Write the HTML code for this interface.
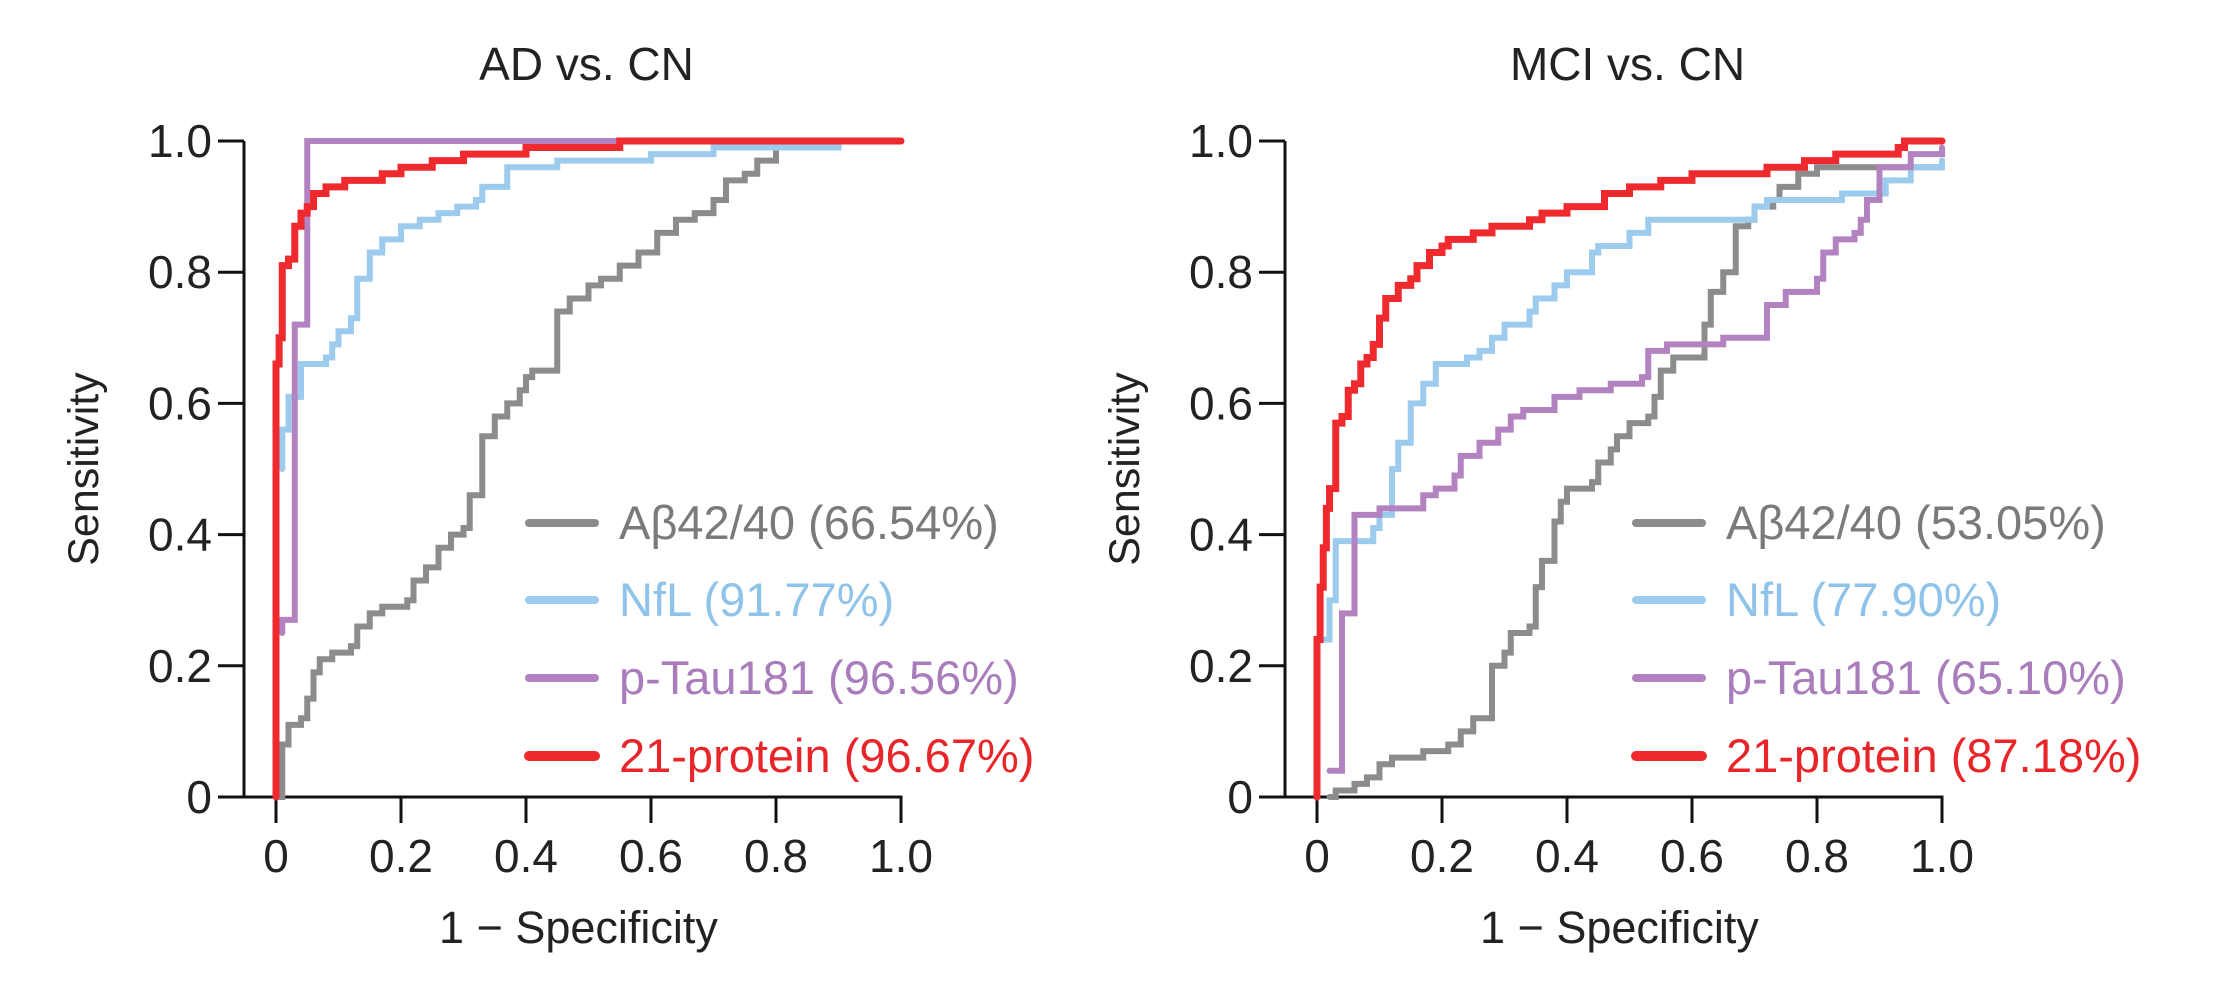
<!DOCTYPE html>
<html><head><meta charset="utf-8"><style>
html,body{margin:0;padding:0;background:#fff}
svg{display:block}
text{font-family:"Liberation Sans",Arial,sans-serif}
</style></head><body>
<svg id="s" width="2215" height="997" viewBox="0 0 2215 997" xmlns="http://www.w3.org/2000/svg"></svg>
<script>
const S=document.getElementById('s');
const NS='http://www.w3.org/2000/svg';
function el(t,a,txt){const e=document.createElementNS(NS,t);for(const k in a)e.setAttribute(k,a[k]);if(txt!==undefined)e.textContent=txt;S.appendChild(e);return e;}
const Y0=797,Y1=141,H=Y0-Y1;
const cols={g:'#8c8c8c',b:'#9ccbed',p:'#b283c0',r:'#ee2a2e'};
const tcols={g:'#7a7a7a',b:'#8fc3ea',p:'#a97cbc',r:'#e8262a'};
function panel(x0,title,data,legX,legs){
 const W=625, sp=x0-32;
 const X=v=>x0+v*W, Yf=v=>Y0-v*H;
 el('text',{x:x0+W/2-2,y:80,'font-size':46,'text-anchor':'middle',fill:'#222'},title);
 el('line',{x1:sp,y1:Y1,x2:sp,y2:Y0,stroke:'#111','stroke-width':3});
 el('line',{x1:sp-26,y1:Y0,x2:x0+W+1.5,y2:Y0,stroke:'#111','stroke-width':3});
 for(let i=0;i<=5;i++){
  const v=i/5,y=Yf(v),x=X(v);
  el('line',{x1:sp-26,y1:y,x2:sp,y2:y,stroke:'#111','stroke-width':3});
  el('line',{x1:x,y1:Y0,x2:x,y2:Y0+26,stroke:'#111','stroke-width':3});
  const lab=i==0?'0':(v.toFixed(1));
  el('text',{x:sp-32,y:y+16,'font-size':46,'text-anchor':'end',fill:'#222'},lab);
  el('text',{x:x,y:872,'font-size':46,'text-anchor':'middle',fill:'#222'},lab);
 }
 el('text',{x:x0+W/2-10,y:943,'font-size':45,'text-anchor':'middle',fill:'#222'},'1 \u2212 Specificity');
 el('text',{x:0,y:0,'font-size':43,'text-anchor':'middle',fill:'#222',transform:`translate(${sp-146},${(Y0+Y1)/2}) rotate(-90)`},'Sensitivity');
 for(const k of ['g','b','p','r']){
  const pts=data[k];let d='M'+X(pts[0][0])+' '+Yf(pts[0][1]);
  for(let i=1;i<pts.length;i++){d+=' H'+X(pts[i][0])+' V'+Yf(pts[i][1]);}
  el('path',{d:d,fill:'none',stroke:cols[k],'stroke-width':k=='r'?7:6,'stroke-linejoin':'miter','stroke-linecap':'round'});
 }
 const ys=[523,600,678,756];
 ['g','b','p','r'].forEach((k,i)=>{
  el('line',{x1:legX,y1:ys[i],x2:legX+66,y2:ys[i],stroke:cols[k],'stroke-width':k=='r'?10:8,'stroke-linecap':'round'});
  el('text',{x:legX+90,y:ys[i]+16,'font-size':47,fill:tcols[k]},legs[i]);
 });
}
const AD={
g:[[0,0],[0.01,0.08],[0.02,0.11],[0.04,0.12],[0.05,0.15],[0.06,0.19],[0.07,0.21],[0.09,0.22],[0.12,0.23],[0.13,0.26],[0.15,0.28],[0.17,0.29],[0.21,0.30],[0.22,0.33],[0.24,0.35],[0.26,0.38],[0.28,0.40],[0.3,0.41],[0.31,0.46],[0.33,0.48],[0.33,0.55],[0.35,0.58],[0.37,0.60],[0.39,0.62],[0.4,0.64],[0.41,0.65],[0.45,0.65],[0.45,0.74],[0.47,0.76],[0.5,0.78],[0.52,0.79],[0.55,0.81],[0.58,0.83],[0.6,0.83],[0.61,0.86],[0.64,0.88],[0.67,0.89],[0.7,0.91],[0.72,0.91],[0.72,0.94],[0.75,0.95],[0.77,0.97],[0.8,0.99],[0.9,1.0],[1,1]],
b:[[0.01,0.5],[0.01,0.56],[0.02,0.61],[0.04,0.66],[0.08,0.67],[0.09,0.69],[0.1,0.71],[0.12,0.73],[0.13,0.79],[0.15,0.83],[0.17,0.85],[0.2,0.87],[0.23,0.88],[0.26,0.89],[0.29,0.90],[0.32,0.91],[0.33,0.93],[0.37,0.96],[0.45,0.97],[0.6,0.98],[0.7,0.99],[0.9,1],[1,1]],
p:[[0.01,0.25],[0.01,0.27],[0.03,0.28],[0.03,0.72],[0.05,0.74],[0.05,1.0],[1,1]],
r:[[0,0],[0,0.66],[0.005,0.7],[0.01,0.76],[0.01,0.81],[0.02,0.82],[0.03,0.87],[0.04,0.89],[0.05,0.9],[0.06,0.92],[0.08,0.93],[0.11,0.94],[0.17,0.95],[0.2,0.96],[0.25,0.97],[0.3,0.98],[0.4,0.99],[0.55,1.0],[1,1]]
};
const MCI={
r:[[0,0],[0,0.24],[0.005,0.32],[0.01,0.38],[0.015,0.44],[0.02,0.47],[0.03,0.51],[0.03,0.57],[0.04,0.58],[0.05,0.62],[0.06,0.63],[0.07,0.66],[0.08,0.67],[0.09,0.69],[0.1,0.73],[0.11,0.76],[0.13,0.78],[0.15,0.79],[0.16,0.81],[0.18,0.83],[0.2,0.84],[0.21,0.85],[0.25,0.86],[0.28,0.87],[0.34,0.88],[0.36,0.89],[0.4,0.90],[0.46,0.92],[0.5,0.93],[0.55,0.94],[0.6,0.95],[0.72,0.96],[0.78,0.97],[0.83,0.98],[0.93,0.99],[0.94,1.0],[1,1]],
b:[[0.01,0.24],[0.02,0.3],[0.03,0.3],[0.03,0.39],[0.09,0.39],[0.09,0.41],[0.1,0.43],[0.12,0.45],[0.12,0.5],[0.13,0.54],[0.15,0.54],[0.15,0.6],[0.17,0.63],[0.19,0.66],[0.24,0.67],[0.26,0.68],[0.28,0.7],[0.3,0.72],[0.34,0.74],[0.35,0.76],[0.38,0.78],[0.4,0.80],[0.44,0.83],[0.45,0.84],[0.5,0.86],[0.53,0.88],[0.67,0.88],[0.7,0.9],[0.72,0.91],[0.84,0.92],[0.91,0.94],[0.95,0.96],[1,0.97]],
p:[[0.02,0.04],[0.04,0.04],[0.04,0.28],[0.06,0.29],[0.06,0.43],[0.1,0.44],[0.17,0.46],[0.19,0.47],[0.22,0.49],[0.23,0.52],[0.26,0.54],[0.29,0.56],[0.31,0.58],[0.33,0.59],[0.38,0.61],[0.42,0.62],[0.47,0.63],[0.52,0.64],[0.53,0.68],[0.56,0.69],[0.62,0.69],[0.65,0.70],[0.72,0.71],[0.72,0.75],[0.75,0.77],[0.8,0.79],[0.81,0.83],[0.83,0.85],[0.86,0.86],[0.87,0.88],[0.88,0.91],[0.9,0.93],[0.9,0.96],[0.95,0.98],[1,0.99]],
g:[[0.02,0],[0.03,0.01],[0.06,0.02],[0.08,0.03],[0.1,0.05],[0.12,0.06],[0.17,0.07],[0.21,0.08],[0.23,0.1],[0.25,0.12],[0.28,0.14],[0.28,0.2],[0.3,0.22],[0.31,0.25],[0.34,0.26],[0.35,0.32],[0.36,0.36],[0.38,0.38],[0.38,0.42],[0.39,0.45],[0.4,0.47],[0.44,0.48],[0.45,0.51],[0.47,0.53],[0.48,0.55],[0.5,0.57],[0.53,0.58],[0.54,0.61],[0.55,0.65],[0.57,0.67],[0.61,0.67],[0.62,0.72],[0.63,0.77],[0.65,0.8],[0.67,0.8],[0.67,0.87],[0.69,0.88],[0.7,0.9],[0.73,0.91],[0.74,0.93],[0.77,0.95],[0.8,0.96],[0.95,0.96],[1,0.97]]
};
panel(276,'AD vs. CN',AD,529,['A\u03b242/40 (66.54%)','NfL (91.77%)','p-Tau181 (96.56%)','21-protein (96.67%)']);
panel(1317,'MCI vs. CN',MCI,1636,['A\u03b242/40 (53.05%)','NfL (77.90%)','p-Tau181 (65.10%)','21-protein (87.18%)']);
</script>
</body></html>
